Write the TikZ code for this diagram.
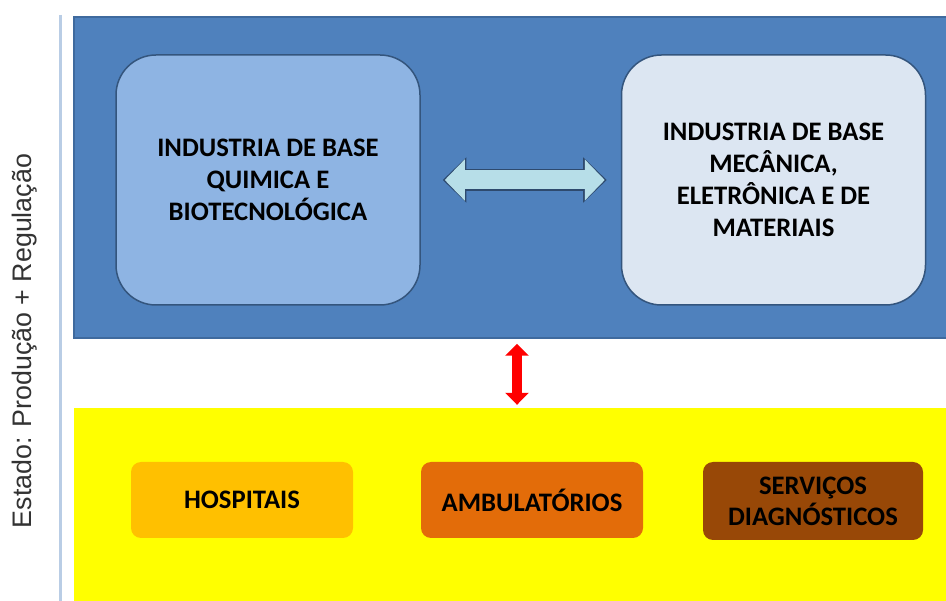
\documentclass[tikz,border=0pt]{standalone}
\usepackage{fontspec}
\setmainfont{Carlito}
\newfontfamily\sidefont{Liberation Sans}
\usetikzlibrary{positioning}
\usetikzlibrary{arrows.meta}
\definecolor{panelblue}{HTML}{4F81BD}
\definecolor{paneledge}{HTML}{3F6A9E}
\definecolor{boxedge}{HTML}{34557D}
\definecolor{boxblue}{HTML}{8EB4E3}
\definecolor{boxpale}{HTML}{DCE6F2}
\definecolor{arrowfill}{HTML}{B7DEE8}
\definecolor{arrowedge}{HTML}{2E4A6E}
\definecolor{carefill}{HTML}{FFFF00}
\definecolor{hospfill}{HTML}{FFC000}
\definecolor{ambufill}{HTML}{E36C09}
\definecolor{servfill}{HTML}{984807}
\definecolor{sideline}{HTML}{B9CDE5}
\tikzset{
    panel/.style = {rectangle, draw=paneledge, line width=1.5pt, fill=panelblue, inner sep=0pt},
    carepanel/.style = {rectangle, fill=carefill, inner sep=0pt},
    bignode/.style = {rectangle, rounded corners=40pt, draw=boxedge, line width=1.5pt, minimum width=304pt, minimum height=250pt, align=center, font=\bfseries\fontsize{26.7}{32}\selectfont},
    smallnode/.style = {rectangle, rounded corners=10pt, minimum width=222pt, minimum height=76pt, align=center, font=\bfseries\fontsize{26.7}{31}\selectfont},
    sidelabel/.style = {rotate=90, text=black!80, font=\sidefont\fontsize{26.8}{30}\selectfont},
    edgeo/.style = {line width=22pt, arrowedge, {Triangle[length=23.6pt,width=44pt]}-{Triangle[length=23.6pt,width=44pt]}}, % outline
    edgei/.style = {line width=19pt, arrowfill, {Triangle[length=20pt,width=40pt]}-{Triangle[length=20pt,width=40pt]}},
    edger/.style = {line width=10pt, red, {Triangle[length=12pt,width=23pt]}-{Triangle[length=12pt,width=23pt]}},
}
\begin{document}
\begin{tikzpicture}[x=1pt,y=-1pt]
\useasboundingbox (0,0) rectangle (946,601);
\fill[white] (0,0) rectangle (946,601);

\draw[sideline, line width=3pt] (60,15) -- (60,601);
\node[sidelabel] at (25,341) (estado) {Estado: Produção + Regulação};

\node[panel, minimum width=880pt, minimum height=321pt] at (514,177.5) (panel) {};
\node[carepanel, minimum width=880pt, minimum height=193pt] at (514,504.5) (care) {};

\node[bignode, fill=boxblue] at (268,180) (quimica) {INDUSTRIA DE BASE\\QUIMICA E\\BIOTECNOLÓGICA};
\node[bignode, fill=boxpale] at (773.5,180) (mecanica) {INDUSTRIA DE BASE\\MECÂNICA,\\ELETRÔNICA E DE\\MATERIAIS};

\node[smallnode, fill=hospfill] at (242,500) (hospitais) {HOSPITAIS};
\node[smallnode, fill=ambufill] at (532,500) (ambulatorios) {AMBULATÓRIOS};
\node[smallnode, fill=servfill, minimum width=220pt, minimum height=78pt] at (813,501) (servicos) {SERVIÇOS\\DIAGNÓSTICOS};

\draw[edgeo, shorten <=22pt, shorten >=14pt] (quimica) -- (mecanica);
\draw[edgei, shorten <=24pt, shorten >=16pt] (quimica) -- (mecanica);

\draw[edger, shorten <=5pt, shorten >=3pt] ([xshift=3pt]panel.south) -- ([xshift=3pt]care.north);
\end{tikzpicture}
\end{document}
